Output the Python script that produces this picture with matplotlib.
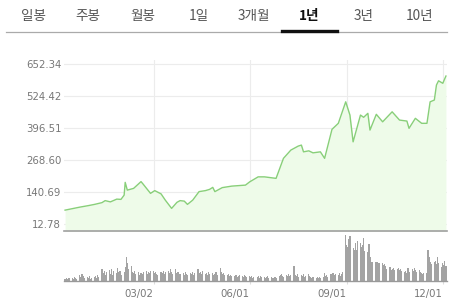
import matplotlib
matplotlib.use("Agg")
import matplotlib.pyplot as plt
from matplotlib.lines import Line2D
import pandas as pd

# ---- data ----
tabs = ["일봉", "주봉", "월봉", "1일", "3개월", "1년", "3년", "10년"]
active_tab = "1년"

price_dates = [
    "2019-12-09", "2019-12-16", "2019-12-23", "2019-12-31", "2020-01-06", "2020-01-13",
    "2020-01-16", "2020-01-21", "2020-01-27", "2020-01-31", "2020-02-03", "2020-02-04",
    "2020-02-06", "2020-02-12", "2020-02-19", "2020-02-21", "2020-02-28", "2020-03-03",
    "2020-03-09", "2020-03-13", "2020-03-19", "2020-03-24", "2020-03-27", "2020-03-31",
    "2020-04-03", "2020-04-08", "2020-04-14", "2020-04-20", "2020-04-24", "2020-04-27",
    "2020-04-29", "2020-05-06", "2020-05-15", "2020-05-28", "2020-06-01", "2020-06-09",
    "2020-06-15", "2020-06-26", "2020-07-03", "2020-07-10", "2020-07-17", "2020-07-20",
    "2020-07-22", "2020-07-27", "2020-07-31", "2020-08-07", "2020-08-11", "2020-08-18",
    "2020-08-24", "2020-08-31", "2020-09-04", "2020-09-07", "2020-09-14", "2020-09-17",
    "2020-09-21", "2020-09-23", "2020-09-29", "2020-10-05", "2020-10-14", "2020-10-21",
    "2020-10-28", "2020-10-30", "2020-11-05", "2020-11-11", "2020-11-16", "2020-11-19",
    "2020-11-23", "2020-11-25", "2020-11-27", "2020-12-01", "2020-12-04",
]
price_values = [
    67, 73, 79, 85, 90, 97,
    105, 100, 111, 110, 127, 178,
    147, 154, 181, 171, 134, 145,
    132, 107, 74, 98, 105, 103,
    90, 107, 141, 145, 150, 158,
    141, 157, 163, 167, 180, 200,
    200, 194, 274, 307, 323, 327,
    300, 304, 296, 300, 274, 390,
    414, 500, 447, 340, 447, 438,
    454, 387, 450, 420, 460, 427,
    423, 394, 434, 414, 414, 500,
    507, 567, 584, 574, 603,
]

volume_start = "2019-12-09"
volume_end = "2020-12-04"
volume_values = [
    2, 3, 2, 3, 3,   3, 2, 4, 3, 2,   6, 4, 7, 5, 3,   4, 3, 5, 2, 3,
    4, 5, 3, 6, 4,   12, 8, 10, 6, 9,   11, 7, 12, 6, 10,   8, 13, 9, 10, 6,
    9, 14, 24, 18, 12,   15, 9, 8, 10, 7,   9, 6, 8, 7, 9,   10, 7, 9, 8, 10,
    10, 8, 9, 7, 6,   9, 8, 10, 7, 9,   10, 8, 12, 9, 7,   12, 8, 9, 6, 7,
    8, 6, 9, 7, 6,   8, 7, 9, 6, 8,   12, 8, 9, 7, 10,   7, 8, 6, 9, 7,
    8, 6, 7, 9, 6,   13, 9, 7, 8, 6,   6, 7, 5, 6, 5,   5, 6, 4, 5, 6,
    5, 4, 6, 5, 4,   5, 4, 5, 3, 4,   4, 5, 3, 5, 4,   4, 3, 4, 5, 3,
    4, 3, 3, 4, 3,   5, 6, 7, 5, 4,   6, 5, 7, 5, 6,   15, 6, 5, 7, 4,
    6, 5, 7, 4, 5,   7, 5, 4, 3, 4,   3, 4, 3, 4, 3,   4, 8, 5, 6, 4,
    7, 5, 8, 6, 7,   6, 8, 5, 7, 9,   46, 36, 34, 42, 45,   33, 31, 38, 31, 40,
    38, 34, 36, 43, 30,   29, 37, 24, 19, 19,   19, 19, 19, 18, 18,   18, 16, 17, 15, 12,
    14, 11, 12, 13, 11,   12, 13, 11, 12, 10,   9, 10, 8, 13, 9,   12, 10, 13, 11, 9,
    11, 9, 8, 7, 8,   8, 31, 24, 19, 17,   19, 20, 17, 24, 18,   14, 18, 16, 20, 15,
]

y_ticks = [12.78, 140.69, 268.60, 396.51, 524.42, 652.34]
x_tick_dates = ["2020-03-02", "2020-06-01", "2020-09-01", "2020-12-01"]
x_tick_labels = ["03/02", "06/01", "09/01", "12/01"]

# ---- figure ----
W, H = 467, 308
DPI = 100
fig = plt.figure(figsize=(W / DPI, H / DPI), dpi=DPI)
fig.patch.set_facecolor("white")

def fx(px):
    return px / W

def fy(py):
    return 1 - py / H

kr = ["Noto Sans CJK KR", "DejaVu Sans"]

# tab bar
tab_x = [33, 88, 143, 199, 254, 309, 364, 420]
for lbl, x in zip(tabs, tab_x):
    is_act = lbl == active_tab
    fig.text(fx(x), fy(16), lbl, ha="center", va="center", fontsize=9.8,
             family=kr, color="#111111" if is_act else "#555555",
             fontweight="bold" if is_act else "normal")
fig.add_artist(Line2D([fx(6), fx(447)], [fy(31.5), fy(31.5)], color="#aaaaaa", lw=0.9))
fig.add_artist(Line2D([fx(282), fx(337)], [fy(31), fy(31)], color="#111111", lw=2.4))

# main price axes
pd_dates = pd.to_datetime(price_dates)
xlim = (pd.Timestamp("2019-12-08"), pd.Timestamp("2020-12-05"))
ax = fig.add_axes([fx(64), fy(231), fx(447) - fx(64), fy(60) - fy(231)])
ax.fill_between(pd_dates, price_values, -100, color="#eefbe9", lw=0)
ax.plot(pd_dates, price_values, color="#88cf79", lw=1.0)
ax.set_xlim(*xlim)
ax.set_ylim(-16.4, 667.1)
ax.set_yticks(y_ticks)
ax.set_yticklabels([f"{v:.2f}" for v in y_ticks])
ax.set_xticks(pd.to_datetime(x_tick_dates))
ax.tick_params(axis="x", length=0, labelbottom=False)
ax.tick_params(axis="y", length=0, pad=2, labelsize=7.3, labelcolor="#777777")
ax.grid(True, color="#ececec", lw=0.8)
ax.set_axisbelow(True)
for s in ["top", "right", "left"]:
    ax.spines[s].set_visible(False)
ax.spines["bottom"].set_color("#a0a0a0")
ax.spines["bottom"].set_linewidth(1.2)

# volume axes
vol_dates = pd.bdate_range(volume_start, volume_end)
vax = fig.add_axes([fx(64), fy(281), fx(447) - fx(64), fy(234) - fy(281)])
vax.bar(vol_dates, volume_values, width=1.1, color="#a3a3a3", lw=0)
vax.set_xlim(*xlim)
vax.set_ylim(0, 47)
vax.set_yticks([])
vax.set_xticks(pd.to_datetime(x_tick_dates))
vax.set_xticklabels(x_tick_labels)
for t in vax.get_xticklabels():
    t.set_horizontalalignment("right")
vax.tick_params(axis="x", length=2, color="#dddddd", pad=4, labelsize=7.3, labelcolor="#777777")
for s in ["top", "right", "left"]:
    vax.spines[s].set_visible(False)
vax.spines["bottom"].set_color("#999999")
vax.spines["bottom"].set_linewidth(1.0)

fig.savefig("out.png", dpi=DPI, facecolor="white")
